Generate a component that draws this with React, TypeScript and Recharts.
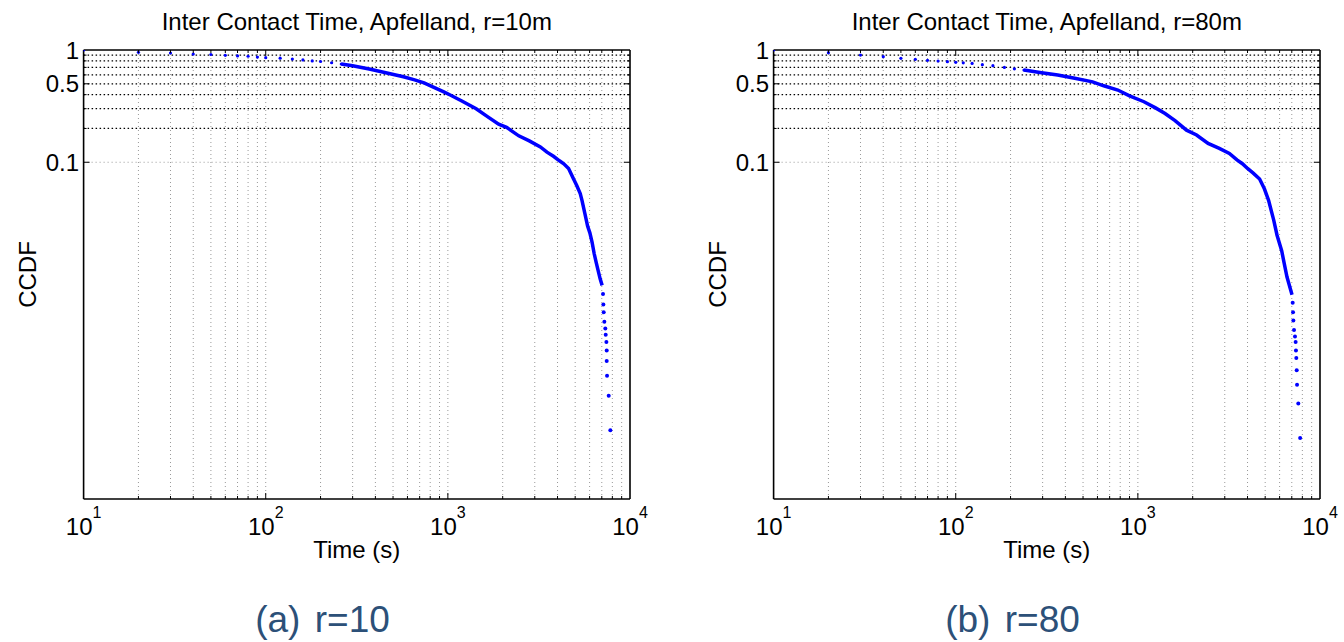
import React from "react";
import {
  ComposedChart,
  Line,
  Scatter,
  XAxis,
  YAxis,
  ReferenceLine,
} from "recharts";

const FONT = "'Liberation Sans', Arial, Helvetica, sans-serif";
const BLUE = "#0000ff";

// axis ticks (log-log)
const xTicks = [
  10, 20, 30, 40, 50, 60, 70, 80, 90,
  100, 200, 300, 400, 500, 600, 700, 800, 900,
  1000, 2000, 3000, 4000, 5000, 6000, 7000, 8000, 9000,
  10000,
];
const xMajor = [10, 100, 1000, 10000];
const yTicks = [0.1, 0.2, 0.3, 0.4, 0.5, 0.6, 0.7, 0.8, 0.9, 1];
const yLabels = [0.1, 0.5, 1];

// r = 10m
const headA = [
  { t: 10, p: 1 }, { t: 20, p: 0.953 }, { t: 30, p: 0.94 }, { t: 40, p: 0.92 },
  { t: 50, p: 0.912 }, { t: 60, p: 0.896 }, { t: 70, p: 0.885 }, { t: 80, p: 0.88 },
  { t: 90, p: 0.865 }, { t: 100, p: 0.855 }, { t: 120, p: 0.845 }, { t: 140, p: 0.83 },
  { t: 160, p: 0.815 }, { t: 180, p: 0.8 }, { t: 200, p: 0.79 }, { t: 230, p: 0.77 },
  { t: 260, p: 0.75 },
];
const bodyA = [
  { t: 260, p: 0.75 }, { t: 300, p: 0.725 }, { t: 370, p: 0.676 }, { t: 450, p: 0.63 },
  { t: 570, p: 0.578 }, { t: 650, p: 0.545 }, { t: 740, p: 0.51 }, { t: 850, p: 0.46 },
  { t: 950, p: 0.424 }, { t: 1030, p: 0.397 }, { t: 1200, p: 0.35 }, { t: 1430, p: 0.3 },
  { t: 1650, p: 0.255 }, { t: 1900, p: 0.218 }, { t: 2100, p: 0.205 }, { t: 2450, p: 0.172 },
  { t: 2800, p: 0.155 }, { t: 3220, p: 0.137 }, { t: 3500, p: 0.123 }, { t: 3800, p: 0.113 },
  { t: 4100, p: 0.103 }, { t: 4330, p: 0.097 }, { t: 4600, p: 0.088 }, { t: 4900, p: 0.071 },
  { t: 5100, p: 0.062 }, { t: 5330, p: 0.0526 }, { t: 5450, p: 0.0458 }, { t: 5650, p: 0.035 },
  { t: 5850, p: 0.027 }, { t: 6020, p: 0.0235 }, { t: 6190, p: 0.0194 }, { t: 6360, p: 0.0153 },
  { t: 6520, p: 0.0128 }, { t: 6680, p: 0.0109 }, { t: 6850, p: 0.0092 }, { t: 7030, p: 0.008 },
];
const tailA = [
  { t: 7110, p: 0.0067 }, { t: 7140, p: 0.0054 }, { t: 7170, p: 0.0046 }, { t: 7230, p: 0.0038 },
  { t: 7320, p: 0.0033 }, { t: 7355, p: 0.0029 }, { t: 7420, p: 0.0025 }, { t: 7450, p: 0.0021 },
  { t: 7450, p: 0.0017 }, { t: 7480, p: 0.00125 }, { t: 7640, p: 0.00083 }, { t: 7800, p: 0.00041 },
];

// r = 80m
const headB = [
  { t: 10, p: 1 }, { t: 20, p: 0.946 }, { t: 30, p: 0.902 }, { t: 40, p: 0.872 },
  { t: 50, p: 0.843 }, { t: 60, p: 0.826 }, { t: 70, p: 0.809 }, { t: 80, p: 0.798 },
  { t: 90, p: 0.787 }, { t: 100, p: 0.776 }, { t: 110, p: 0.768 }, { t: 123, p: 0.76 },
  { t: 140, p: 0.74 }, { t: 160, p: 0.725 }, { t: 185, p: 0.7 }, { t: 210, p: 0.68 },
  { t: 237, p: 0.663 },
];
const bodyB = [
  { t: 237, p: 0.663 }, { t: 290, p: 0.63 }, { t: 363, p: 0.598 }, { t: 450, p: 0.56 },
  { t: 564, p: 0.52 }, { t: 650, p: 0.48 }, { t: 776, p: 0.44 }, { t: 900, p: 0.39 },
  { t: 1080, p: 0.346 }, { t: 1250, p: 0.305 }, { t: 1410, p: 0.272 }, { t: 1600, p: 0.235 },
  { t: 1850, p: 0.193 }, { t: 2100, p: 0.175 }, { t: 2430, p: 0.147 }, { t: 2800, p: 0.133 },
  { t: 3180, p: 0.12 }, { t: 3500, p: 0.105 }, { t: 3750, p: 0.097 }, { t: 4000, p: 0.088 },
  { t: 4300, p: 0.08 }, { t: 4660, p: 0.071 }, { t: 4950, p: 0.058 }, { t: 5220, p: 0.0458 },
  { t: 5570, p: 0.0305 }, { t: 5810, p: 0.0224 }, { t: 6160, p: 0.0163 }, { t: 6340, p: 0.0129 },
  { t: 6590, p: 0.0095 }, { t: 7020, p: 0.0066 },
];
const tailB = [
  { t: 7080, p: 0.0056 }, { t: 7110, p: 0.0046 }, { t: 7140, p: 0.0039 }, { t: 7200, p: 0.0032 },
  { t: 7290, p: 0.0028 }, { t: 7350, p: 0.0025 }, { t: 7380, p: 0.0021 }, { t: 7410, p: 0.0018 },
  { t: 7450, p: 0.0014 }, { t: 7480, p: 0.00104 }, { t: 7600, p: 0.00071 }, { t: 7780, p: 0.00035 },
];

const BottomTick = ({ x, y, payload }: any) => {
  const v = payload.value;
  const major = xMajor.includes(v);
  const edge = v === 10 || v === 10000;
  return (
    <g>
      {!edge && (
        <line x1={x} x2={x} y1={y} y2={y - (major ? 6 : 3)} stroke="#000" />
      )}
      {major && (
        <text x={x} y={y + 36} textAnchor="middle" fontSize={24} fontFamily={FONT} fill="#000">
          10
          <tspan dy={-17} fontSize={16}>
            {Math.round(Math.log10(v))}
          </tspan>
        </text>
      )}
    </g>
  );
};

const TopTick = ({ x, y, payload }: any) => {
  const v = payload.value;
  if (v === 10 || v === 10000) return <g />;
  const major = xMajor.includes(v);
  return <line x1={x} x2={x} y1={y} y2={y + (major ? 6 : 3)} stroke="#000" />;
};

const LeftTick = ({ x, y, payload }: any) => {
  const v = payload.value;
  const major = yLabels.includes(v);
  return (
    <g>
      {v !== 1 && <line x1={x} x2={x + (major ? 6 : 3)} y1={y} y2={y} stroke="#000" />}
      {major && (
        <text x={x - 4.5} y={y + 8.5} textAnchor="end" fontSize={24} fontFamily={FONT} fill="#000">
          {v}
        </text>
      )}
    </g>
  );
};

const RightTick = ({ x, y, payload }: any) => {
  const v = payload.value;
  if (v === 1) return <g />;
  const major = yLabels.includes(v);
  return <line x1={x} x2={x - (major ? 6 : 3)} y1={y} y2={y} stroke="#000" />;
};

const dot = (r: number) => (props: any) => (
  <circle cx={props.cx} cy={props.cy} r={r} fill={BLUE} />
);

function Panel({ title, head, body, tail }: any) {
  const axisLine = { stroke: "#000", strokeWidth: 1.6 };
  return (
    <ComposedChart
      width={672}
      height={642}
      margin={{ top: 49, right: 41, bottom: 113, left: 33.6 }}
    >
      <XAxis
        xAxisId="b"
        dataKey="t"
        type="number"
        scale="log"
        domain={[10, 10000]}
        allowDataOverflow
        ticks={xTicks}
        interval={0}
        tickSize={0}
        tickMargin={0}
        height={30}
        axisLine={axisLine}
        tick={<BottomTick />}
        label={(props: any) => {
          const vb = props.viewBox;
          return (
            <text x={vb.x + vb.width / 2} y={vb.y + 59} textAnchor="middle" fontSize={24} fontFamily={FONT} fill="#000">
              Time (s)
            </text>
          );
        }}
      />
      <XAxis
        xAxisId="t"
        dataKey="t"
        type="number"
        scale="log"
        orientation="top"
        domain={[10, 10000]}
        allowDataOverflow
        ticks={xTicks}
        interval={0}
        tickSize={0}
        tickMargin={0}
        height={1}
        axisLine={axisLine}
        tick={<TopTick />}
        label={(props: any) => {
          const vb = props.viewBox;
          return (
            <text x={vb.x + vb.width / 2} y={vb.y + vb.height - 20} textAnchor="middle" fontSize={24} fontFamily={FONT} fill="#000">
              {title}
            </text>
          );
        }}
      />
      <YAxis
        yAxisId="l"
        dataKey="p"
        type="number"
        scale="log"
        domain={[0.0001, 1]}
        allowDataOverflow
        ticks={yTicks}
        interval={0}
        tickSize={0}
        tickMargin={0}
        width={50}
        axisLine={axisLine}
        tick={<LeftTick />}
        label={(props: any) => {
          const vb = props.viewBox;
          const cx = vb.x + vb.width - 47.6;
          const cy = vb.y + vb.height / 2;
          return (
            <text x={cx} y={cy} transform={`rotate(-90, ${cx}, ${cy})`} textAnchor="middle" fontSize={24} fontFamily={FONT} fill="#000">
              CCDF
            </text>
          );
        }}
      />
      <YAxis
        yAxisId="r"
        dataKey="p"
        type="number"
        scale="log"
        orientation="right"
        domain={[0.0001, 1]}
        allowDataOverflow
        ticks={yTicks}
        interval={0}
        tickSize={0}
        tickMargin={0}
        width={1}
        axisLine={axisLine}
        tick={<RightTick />}
      />

      {xTicks
        .filter((v) => v !== 10 && v !== 10000)
        .map((v) => (
          <ReferenceLine key={`gx-${v}`} xAxisId="b" yAxisId="l" x={v} stroke="#999" strokeDasharray="1 3" />
        ))}
      {yTicks
        .filter((v) => v !== 1)
        .map((v) => (
          <ReferenceLine
            key={`gy-${v}`}
            xAxisId="b"
            yAxisId="l"
            y={v}
            stroke={v === 0.1 ? "#999" : "#000"}
            strokeWidth={v === 0.1 ? 1 : 1.2}
            strokeDasharray={v === 0.1 ? "1 3" : "1.5 2.5"}
          />
        ))}

      <Line
        xAxisId="b"
        yAxisId="l"
        data={body}
        dataKey="p"
        type="linear"
        stroke={BLUE}
        strokeWidth={3.5}
        dot={false}
        activeDot={false}
        isAnimationActive={false}
      />
      <Scatter xAxisId="b" yAxisId="l" data={head} dataKey="p" shape={dot(1.6)} isAnimationActive={false} />
      <Scatter xAxisId="b" yAxisId="l" data={tail} dataKey="p" shape={dot(2)} isAnimationActive={false} />
    </ComposedChart>
  );
}

const captionStyle: React.CSSProperties = {
  position: "absolute",
  top: 601,
  fontFamily: FONT,
  fontSize: 37,
  lineHeight: "37px",
  color: "#2c5078",
  transform: "translateX(-50%)",
  whiteSpace: "pre",
  wordSpacing: 4,
};

export default function App() {
  return (
    <div
      style={{
        position: "absolute",
        left: 0,
        top: 0,
        width: 1344,
        height: 642,
        background: "#fff",
        overflow: "hidden",
      }}
    >
      <div style={{ position: "absolute", left: 0, top: 0 }}>
        <Panel title="Inter Contact Time, Apfelland, r=10m" head={headA} body={bodyA} tail={tailA} />
      </div>
      <div style={{ position: "absolute", left: 690, top: 0 }}>
        <Panel title="Inter Contact Time, Apfelland, r=80m" head={headB} body={bodyB} tail={tailB} />
      </div>
      <div style={{ ...captionStyle, left: 322.5 }}>(a) r=10</div>
      <div style={{ ...captionStyle, left: 1012.5 }}>(b) r=80</div>
    </div>
  );
}
